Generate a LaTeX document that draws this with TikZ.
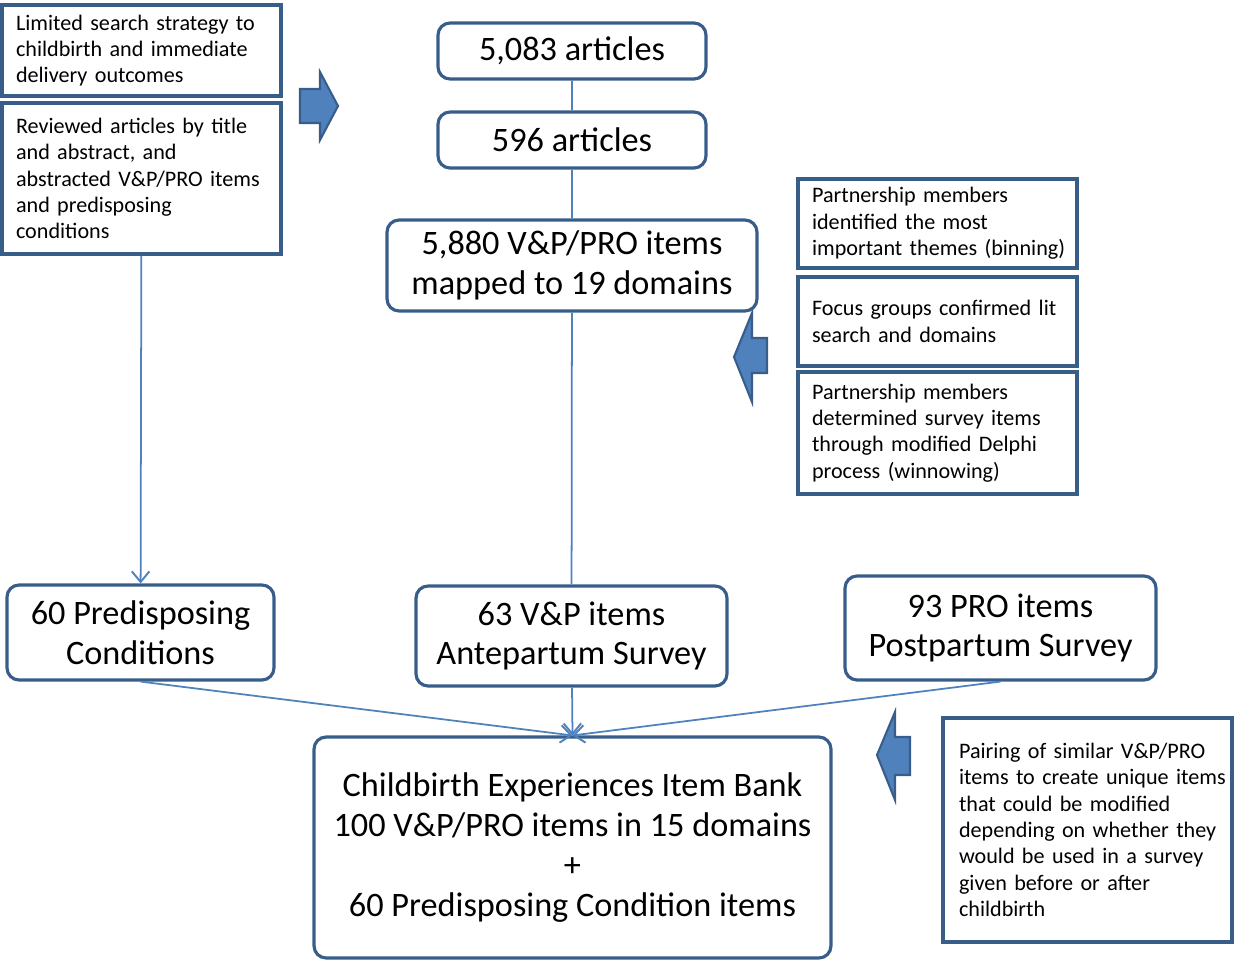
\documentclass[tikz,border=0pt]{standalone}
\usepackage{fontspec}
\setmainfont{Carlito}
\usetikzlibrary{arrows.meta}
\definecolor{boxblue}{RGB}{56,93,138}
\definecolor{lineblue}{RGB}{79,129,189}
\begin{document}
\begin{tikzpicture}[x = .02cm, y = -.02cm,
		note/.style = {draw = boxblue, line width = 1.8pt, align = left, inner xsep = .09cm, text width = 5.4cm, minimum width = 5.58cm, font = \fontsize{12.6}{15}\selectfont, execute at begin node = {\leftskip=.19cm\relax}},
		stage/.style = {draw = boxblue, line width = 1.8pt, rounded corners = .24cm, align = center, font = \fontsize{19.5}{22.7}\selectfont},
		link/.style = {draw = lineblue, line width = 1pt},
		feed/.style = {link, -{Straight Barb[length = 6pt, width = 10pt, line width = 1.1pt]}},
		fat/.style = {fill = lineblue, draw = boxblue, line width = 1.2pt, line join = miter}]
		\useasboundingbox (0,0) rectangle (1234,960);
		
		\node (lim) at (141.5,50.5) [note, minimum height = 1.82cm] {Limited search strategy to\\childbirth and immediate\\delivery outcomes};
		\node (rev) at (141.5,178.5) [note, minimum height = 3.02cm] {Reviewed articles by title\\and abstract, and\\abstracted V\&P/PRO items\\and predisposing\\conditions};
		\draw [fat] (300,89) -- (320,89) -- (320,72) -- (338,106) -- (320,140) -- (320,123) -- (300,123) -- cycle;
		
		\node (art1) at (572,51) [stage, minimum width = 5.36cm, minimum height = 1.12cm] {5,083 articles};
		\node (art2) at (572,140) [stage, minimum width = 5.36cm, minimum height = 1.12cm] {596 articles};
		\node (items) at (572,265.5) [stage, minimum width = 7.4cm, minimum height = 1.82cm] {5,880 V\&P/PRO items\\mapped to 19 domains};
		
		\node (bin) at (937.5,223.5) [note, minimum height = 1.78cm] {Partnership members\\identified the most\\important themes (binning)};
		\node (focus) at (937.5,321.5) [note, minimum height = 1.78cm] {Focus groups confirmed lit\\search and domains};
		\node (delphi) at (937.5,433) [note, minimum height = 2.44cm] {Partnership members\\determined survey items\\through modified Delphi\\process (winnowing)};
		\draw [fat] (767,338) -- (752,338) -- (752,313) -- (734,357) -- (752,402) -- (752,373) -- (767,373) -- cycle;
		
		\node (pred) at (140.5,632.5) [stage, minimum width = 5.34cm, minimum height = 1.9cm] {60 Predisposing\\Conditions};
		\node (antep) at (571.5,636) [stage, minimum width = 6.22cm, minimum height = 2cm] {63 V\&P items\\Antepartum Survey};
		\node (postp) at (1000.5,628) [stage, minimum width = 6.22cm, minimum height = 2.08cm] {93 PRO items\\Postpartum Survey};
		
		\node (bank) at (572.5,847.5) [stage, minimum width = 10.34cm, minimum height = 4.42cm] {Childbirth Experiences Item Bank\\100 V\&P/PRO items in 15 domains\\+\\60 Predisposing Condition items};
		\node (pair) at (1087.5,830) [note, text width = 5.6cm, minimum width = 5.78cm, minimum height = 4.48cm, execute at begin node = {\leftskip=.23cm\relax}] {Pairing of similar V\&P/PRO\\items to create unique items\\that could be modified\\depending on whether they\\would be used in a survey\\given before or after\\childbirth};
		\draw [fat] (910,737) -- (895,737) -- (895,712) -- (877,755) -- (895,800) -- (895,775) -- (910,775) -- cycle;
		
		\draw [link] (art1) -- (art2) -- (items) -- (antep);
		\draw [feed] (rev) -- (pred);
		\draw [feed] (antep) -- (bank.north);
		\draw [feed] (pred.south) -- (bank.north);
		\draw [feed] (postp.south) -- (bank.north);
		\end{tikzpicture}
\end{document}
